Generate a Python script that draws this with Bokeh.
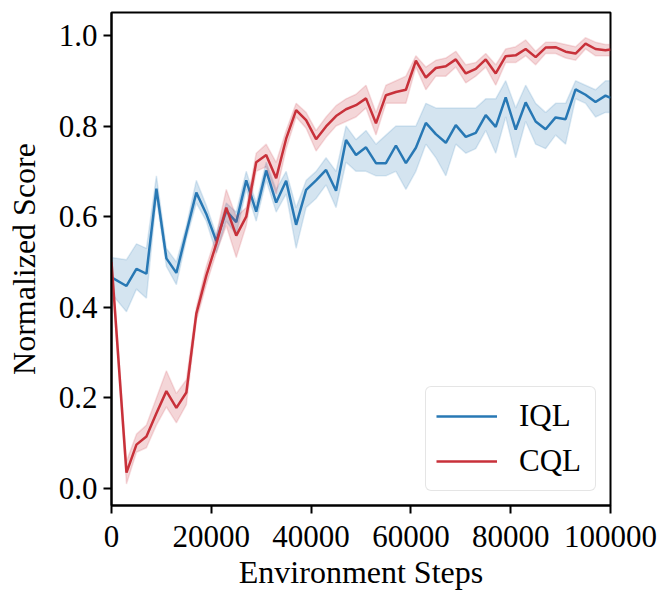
from bokeh.plotting import figure
from bokeh.models import FixedTicker, NumeralTickFormatter, Range1d, Legend, LegendItem
from bokeh.embed import file_html
from bokeh.resources import INLINE

steps = [0] + list(range(3000, 100000, 2000)) + [100000]

iql_mean = [0.466, 0.447, 0.485, 0.474, 0.662, 0.508, 0.476, 0.565, 0.653, 0.606,
            0.546, 0.613, 0.588, 0.680, 0.611, 0.702, 0.631, 0.679, 0.582, 0.659,
            0.680, 0.703, 0.657, 0.769, 0.736, 0.753, 0.718, 0.718, 0.757, 0.718,
            0.752, 0.807, 0.782, 0.763, 0.802, 0.776, 0.785, 0.824, 0.798, 0.863,
            0.792, 0.852, 0.810, 0.793, 0.819, 0.815, 0.881, 0.869, 0.853, 0.867,
            0.862]
iql_upper = [0.51, 0.505, 0.54, 0.53, 0.69, 0.53, 0.50, 0.58, 0.68, 0.625,
             0.56, 0.63, 0.61, 0.70, 0.63, 0.72, 0.66, 0.70, 0.62, 0.68,
             0.70, 0.73, 0.70, 0.80, 0.77, 0.79, 0.76, 0.78, 0.80, 0.80,
             0.80, 0.85, 0.84, 0.84, 0.84, 0.84, 0.84, 0.86, 0.86, 0.90,
             0.84, 0.89, 0.85, 0.83, 0.85, 0.85, 0.90, 0.89, 0.88, 0.90,
             0.90]
iql_lower = [0.43, 0.39, 0.44, 0.42, 0.64, 0.49, 0.45, 0.55, 0.63, 0.59,
             0.52, 0.59, 0.56, 0.66, 0.59, 0.68, 0.61, 0.65, 0.53, 0.62,
             0.64, 0.67, 0.62, 0.72, 0.70, 0.70, 0.69, 0.69, 0.70, 0.66,
             0.70, 0.76, 0.73, 0.69, 0.76, 0.74, 0.75, 0.79, 0.74, 0.82,
             0.73, 0.81, 0.76, 0.75, 0.78, 0.76, 0.86, 0.85, 0.82, 0.83,
             0.83]

cql_mean = [0.50, 0.035, 0.097, 0.115, 0.166, 0.215, 0.178, 0.212, 0.386, 0.47,
            0.54, 0.62, 0.558, 0.60, 0.72, 0.736, 0.685, 0.772, 0.835, 0.813,
            0.771, 0.799, 0.822, 0.837, 0.846, 0.861, 0.806, 0.868, 0.875, 0.880,
            0.944, 0.907, 0.928, 0.932, 0.947, 0.916, 0.926, 0.947, 0.916, 0.954,
            0.956, 0.970, 0.952, 0.973, 0.974, 0.964, 0.960, 0.982, 0.970, 0.967,
            0.969]
cql_upper = [0.52, 0.06, 0.12, 0.14, 0.20, 0.26, 0.21, 0.24, 0.40, 0.49,
             0.56, 0.66, 0.60, 0.62, 0.74, 0.76, 0.72, 0.79, 0.85, 0.83,
             0.79, 0.82, 0.845, 0.86, 0.87, 0.89, 0.83, 0.89, 0.90, 0.91,
             0.955, 0.93, 0.945, 0.95, 0.965, 0.935, 0.94, 0.96, 0.935, 0.97,
             0.975, 0.99, 0.965, 0.985, 0.985, 0.98, 0.975, 0.995, 0.985, 0.98,
             0.98]
cql_lower = [0.48, 0.01, 0.08, 0.09, 0.14, 0.18, 0.145, 0.185, 0.37, 0.45,
             0.52, 0.58, 0.51, 0.58, 0.70, 0.71, 0.65, 0.75, 0.82, 0.795,
             0.745, 0.775, 0.80, 0.81, 0.82, 0.84, 0.78, 0.85, 0.85, 0.85,
             0.93, 0.88, 0.91, 0.91, 0.93, 0.895, 0.91, 0.93, 0.89, 0.94,
             0.94, 0.955, 0.935, 0.96, 0.96, 0.95, 0.945, 0.97, 0.955, 0.955,
             0.955]

x_ticks = [0, 20000, 40000, 60000, 80000, 100000]
y_ticks = [0.0, 0.2, 0.4, 0.6, 0.8, 1.0]

BLUE = "#2878b4"
RED = "#c8313a"
FONT = "Liberation Serif"

p = figure(width=659, height=592, output_backend="svg", toolbar_location=None,
           x_range=Range1d(0, 100000), y_range=Range1d(-0.0374, 1.0505))
p.min_border_left = 111
p.min_border_right = 49
p.min_border_top = 12
p.min_border_bottom = 85
p.background_fill_color = "white"
p.border_fill_color = "white"
p.outline_line_color = "black"
p.outline_line_width = 2
p.grid.visible = False

for ax in (p.xaxis[0], p.yaxis[0]):
    ax.axis_line_width = 2
    ax.axis_line_color = "black"
    ax.major_tick_line_width = 2
    ax.major_tick_line_color = "black"
    ax.major_tick_out = 8
    ax.major_tick_in = 0
    ax.minor_tick_line_color = None
    ax.major_label_text_font = FONT
    ax.major_label_text_font_size = "31px"
    ax.major_label_text_color = "black"
    ax.axis_label_text_font = FONT
    ax.axis_label_text_font_size = "32px"
    ax.axis_label_text_font_style = "normal"
    ax.axis_label_text_color = "black"

p.xaxis.ticker = FixedTicker(ticks=x_ticks)
p.yaxis.ticker = FixedTicker(ticks=y_ticks)
p.xaxis.formatter = NumeralTickFormatter(format="0")
p.yaxis.formatter = NumeralTickFormatter(format="0.0")
p.xaxis.axis_label = "Environment Steps"
p.yaxis.axis_label = "Normalized Score"
p.xaxis.major_label_standoff = 12
p.yaxis.major_label_standoff = 6
p.xaxis.axis_label_standoff = 4
p.yaxis.axis_label_standoff = 14

# IQL
p.varea(x=steps, y1=iql_lower, y2=iql_upper, fill_color=BLUE, fill_alpha=0.2)
p.line(steps, iql_upper, line_color=BLUE, line_alpha=0.15, line_width=1.5)
p.line(steps, iql_lower, line_color=BLUE, line_alpha=0.15, line_width=1.5)
iql_line = p.line(steps, iql_mean, line_color=BLUE, line_width=2.5)

# CQL
p.varea(x=steps, y1=cql_lower, y2=cql_upper, fill_color=RED, fill_alpha=0.2)
p.line(steps, cql_upper, line_color=RED, line_alpha=0.15, line_width=1.5)
p.line(steps, cql_lower, line_color=RED, line_alpha=0.15, line_width=1.5)
cql_line = p.line(steps, cql_mean, line_color=RED, line_width=2.5)

legend = Legend(items=[LegendItem(label="IQL", renderers=[iql_line]),
                       LegendItem(label="CQL", renderers=[cql_line])],
                location="bottom_right")
legend.margin = 14
legend.padding = 10
legend.spacing = 7
legend.glyph_width = 61
legend.glyph_height = 38
legend.label_height = 38
legend.label_width = 66
legend.label_standoff = 22
legend.label_text_font = FONT
legend.label_text_font_size = "31px"
legend.label_text_color = "black"
legend.border_line_color = "#cccccc"
legend.border_line_width = 1.5
legend.border_radius = 6
legend.background_fill_color = "white"
legend.background_fill_alpha = 0.8
p.add_layout(legend, "center")

open("out.html", "w").write(file_html(p, INLINE))
